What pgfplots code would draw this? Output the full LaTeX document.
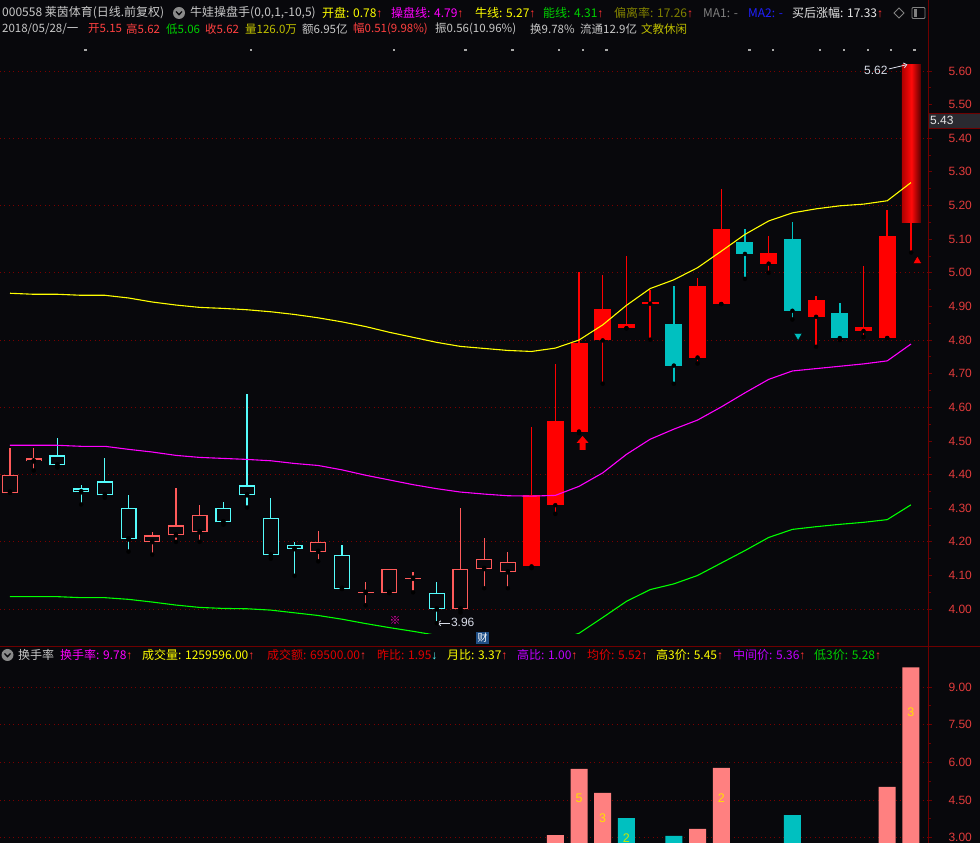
\documentclass[border=0pt]{standalone}
\usepackage{fontspec}
\setmainfont{Liberation Sans}
\newfontfamily\cjk{Noto Sans CJK SC}
\usepackage{pgfplots}
\usepackage{pgfplotstable}
\pgfplotsset{compat=1.18}
\usetikzlibrary{arrows.meta}

\definecolor{bg}{HTML}{08080C}
\definecolor{gridred}{HTML}{7A0000}
\definecolor{axred}{HTML}{6E0000}
\definecolor{lblred}{HTML}{E23B3B}
\definecolor{hred}{HTML}{FF5A5A}
\definecolor{hcyan}{HTML}{54FCFC}
\definecolor{fred}{HTML}{FF0000}
\definecolor{fcyan}{HTML}{00C0C0}
\definecolor{pinkbar}{HTML}{FF8080}
\definecolor{yel}{HTML}{FFFF00}
\definecolor{mag}{HTML}{FF00FF}
\definecolor{grn}{HTML}{00FF00}
\definecolor{hgray}{HTML}{C8C8C8}
\definecolor{hwhite}{HTML}{E6E6E6}
\definecolor{holive}{HTML}{808000}
\definecolor{holive2}{HTML}{C0C000}
\definecolor{hgrn}{HTML}{00D000}
\definecolor{txtred}{HTML}{FF4040}
\definecolor{darkred}{HTML}{E00000}
\definecolor{arrred}{HTML}{FF3030}
\definecolor{hblue}{HTML}{2020FF}
\definecolor{hpurp}{HTML}{C000FF}
\definecolor{dotgray}{HTML}{A8A8A8}
\definecolor{annot}{HTML}{D8DCE8}
\definecolor{curbox}{HTML}{2A2A30}
\definecolor{caiblue}{HTML}{1F4F86}
\definecolor{numyel}{HTML}{FFE000}
\definecolor{lastL}{HTML}{B00000}
\definecolor{lastM}{HTML}{FF0A0A}
\definecolor{lastR}{HTML}{5A0000}
\definecolor{iconbg}{HTML}{8A8A8A}

\pgfdeclareplotmark{uparrowmk}{%
  \pgfpathmoveto{\pgfqpoint{-6pt}{0pt}}%
  \pgfpathlineto{\pgfqpoint{0pt}{7pt}}%
  \pgfpathlineto{\pgfqpoint{6pt}{0pt}}%
  \pgfpathlineto{\pgfqpoint{3pt}{0pt}}%
  \pgfpathlineto{\pgfqpoint{3pt}{-7pt}}%
  \pgfpathlineto{\pgfqpoint{-3pt}{-7pt}}%
  \pgfpathlineto{\pgfqpoint{-3pt}{0pt}}%
  \pgfpathclose
  \pgfusepathqfill}

% candles: x open high low close
\pgfplotstableread{
x o h l c
0 4.346 4.479 4.346 4.398
1 4.439 4.479 4.412 4.448
6 4.199 4.229 4.162 4.219
7 4.219 4.360 4.200 4.249
8 4.228 4.310 4.200 4.279
13 4.170 4.231 4.142 4.200
15 4.048 4.081 4.011 4.048
16 4.048 4.119 4.048 4.119
17 4.090 4.110 4.050 4.090
19 3.999 4.301 3.990 4.119
20 4.119 4.210 4.062 4.149
21 4.109 4.171 4.062 4.140
}\hollowred

\pgfplotstableread{
x o h l c
2 4.457 4.509 4.421 4.427
3 4.359 4.368 4.311 4.347
4 4.380 4.449 4.331 4.338
5 4.300 4.338 4.171 4.207
9 4.300 4.318 4.251 4.258
10 4.368 4.640 4.302 4.338
11 4.270 4.330 4.150 4.160
12 4.190 4.199 4.099 4.178
14 4.161 4.191 4.060 4.060
18 4.048 4.081 3.958 3.999
}\hollowcyan

\pgfplotstableread{
x o h l c
22 4.127 4.540 4.122 4.340
23 4.309 4.729 4.283 4.560
24 4.528 5.001 4.523 4.792
25 4.799 4.992 4.670 4.891
26 4.835 5.050 4.835 4.849
27 4.908 4.948 4.801 4.908
29 4.748 4.983 4.730 4.961
30 4.907 5.250 4.907 5.130
32 5.027 5.109 5.000 5.058
34 4.869 4.930 4.780 4.918
36 4.827 5.020 4.809 4.838
37 4.806 5.188 4.806 5.109
}\filledred

\pgfplotstableread{
x o h l c
28 4.849 4.961 4.670 4.724
31 5.091 5.130 4.982 5.056
33 5.100 5.151 4.861 4.887
35 4.880 4.910 4.800 4.806
}\filledcyan

% bands: upper (yellow), middle (magenta), lower (green)
\pgfplotstableread{
x yel mag grn
0 4.939 4.487 4.037
1 4.936 4.487 4.037
2 4.936 4.487 4.037
3 4.933 4.484 4.034
4 4.933 4.484 4.034
5 4.925 4.475 4.029
6 4.913 4.467 4.021
7 4.904 4.457 4.012
8 4.897 4.451 4.005
9 4.894 4.448 4.002
10 4.890 4.445 4.001
11 4.884 4.441 3.997
12 4.876 4.433 3.989
13 4.866 4.427 3.981
14 4.854 4.414 3.970
15 4.840 4.398 3.957
16 4.823 4.384 3.945
17 4.808 4.370 3.934
18 4.793 4.358 3.922
19 4.781 4.348 3.913
20 4.775 4.342 3.908
21 4.769 4.337 3.904
22 4.766 4.336 3.904
23 4.776 4.338 3.906
24 4.800 4.365 3.928
25 4.845 4.405 3.975
26 4.903 4.460 4.023
27 4.953 4.505 4.058
28 4.979 4.535 4.075
29 5.015 4.562 4.100
30 5.064 4.601 4.137
31 5.114 4.643 4.174
32 5.154 4.683 4.213
33 5.178 4.708 4.237
34 5.190 4.715 4.245
35 5.199 4.722 4.252
36 5.204 4.729 4.258
37 5.214 4.738 4.266
38 5.268 4.788 4.310
}\bands

% turnover rate (visible part of the lower panel)
\pgfplotstableread{
x v
23 3.10
24 5.74
25 4.78
29 3.35
30 5.78
37 5.02
38 9.78
}\turnred
\pgfplotstableread{
x v
26 3.78
28 3.07
33 3.90
}\turncyan

\pgfplotsset{
  kstyle/.style={
    scale only axis, width=928pt,
    xmin=-0.4218, xmax=38.72,
    axis x line=none, axis y line*=right,
    y axis line style={draw=axred, line width=1pt},
    tick style={draw=axred, line width=0.8pt},
    tick align=outside, major tick length=4pt, minor tick length=2.5pt,
    minor y tick num=1,
    yticklabel style={font=\fontsize{12}{14}\selectfont, text=lblred, xshift=13pt,
      /pgf/number format/fixed, /pgf/number format/fixed zerofill,
      /pgf/number format/precision=2, /pgf/number format/assume math mode=true},
  },
  wick/.style 2 args={only marks, mark=none, error bars/.cd, y dir=plus, y explicit, error mark=none,
      error bar style={draw=#1, line width=#2, solid}},
  body/.style 2 args={only marks, mark=none, error bars/.cd, y dir=plus, y explicit, error mark=none,
      error bar style={draw=#1, line width=#2, solid, line cap=butt}},
}

\tikzset{hd/.style={anchor=west, inner sep=0pt, font=\cjk\fontsize{12}{14}\selectfont},
         hd2/.style={anchor=west, inner sep=0pt, font=\cjk\fontsize{11.5}{14}\selectfont}}
\newcommand{\up}{{\rmfamily\color{arrred}↑}}
\newcommand{\dn}{{\rmfamily\color{hcyan}↓}}

\begin{document}
\begin{tikzpicture}[x=1pt,y=1pt]
\fill[bg] (0,0) rectangle (980,843);
\path[use as bounding box] (0,0) rectangle (980,843);

% separators
\draw[axred, line width=1pt] (0,196) -- (980,196);
\draw[axred, line width=1pt] (928,0) -- (928,843);

% ===== main panel =====
\begin{axis}[kstyle, at={(0pt,209pt)}, anchor=south west, height=594pt,
  ymin=3.926, ymax=5.692,
  ytick={4.0,4.1,4.2,4.3,4.4,4.5,4.6,4.7,4.8,4.9,5.0,5.1,5.2,5.3,5.4,5.5,5.6},
  extra y ticks={4.0,4.2,4.4,4.6,4.8,5.0,5.2,5.4,5.6}, extra y tick labels={},
  extra y tick style={grid=major, major grid style={draw=gridred, line width=0.8pt, dash pattern=on 1pt off 3.5pt}},
]
% hollow red
\addplot[wick={hred}{1.2pt}] table[x=x, y=l, y error expr=\thisrow{h}-\thisrow{l}] {\hollowred};
\addplot[body={hred}{16pt}] table[x=x, y expr={min(\thisrow{o},\thisrow{c})}, y error expr={max(abs(\thisrow{c}-\thisrow{o}),0.0036)}] {\hollowred};
\addplot[body={bg}{13.6pt}] table[x=x, y expr={min(\thisrow{o},\thisrow{c})+0.0036}, y error expr={max(abs(\thisrow{c}-\thisrow{o})-0.0072,0)}] {\hollowred};
% hollow cyan
\addplot[wick={hcyan}{1.2pt}] table[x=x, y=l, y error expr=\thisrow{h}-\thisrow{l}] {\hollowcyan};
\addplot[body={hcyan}{16pt}] table[x=x, y expr={min(\thisrow{o},\thisrow{c})}, y error expr={max(abs(\thisrow{c}-\thisrow{o}),0.0036)}] {\hollowcyan};
\addplot[body={bg}{13.6pt}] table[x=x, y expr={min(\thisrow{o},\thisrow{c})+0.0036}, y error expr={max(abs(\thisrow{c}-\thisrow{o})-0.0072,0)}] {\hollowcyan};
% filled red
\addplot[wick={fred}{1.5pt}] table[x=x, y=l, y error expr=\thisrow{h}-\thisrow{l}] {\filledred};
\addplot[body={fred}{17pt}] table[x=x, y expr={min(\thisrow{o},\thisrow{c})}, y error expr={max(abs(\thisrow{c}-\thisrow{o}),0.0040)}] {\filledred};
% filled cyan
\addplot[wick={fcyan}{1.5pt}] table[x=x, y=l, y error expr=\thisrow{h}-\thisrow{l}] {\filledcyan};
\addplot[body={fcyan}{17pt}] table[x=x, y expr={min(\thisrow{o},\thisrow{c})}, y error expr={max(abs(\thisrow{c}-\thisrow{o}),0.0040)}] {\filledcyan};
% last candle (limit up), open 5.149 high 5.62 low 5.06 close 5.62
\addplot[wick={fred}{1.5pt}] coordinates {(38.01,5.06) +- (0,0.089)};
\addplot[draw=none, left color=lastL, right color=lastR, middle color=lastM] coordinates {(37.62,5.149) (38.42,5.149) (38.42,5.62) (37.62,5.62) (37.62,5.149)};

% bands
\addplot[draw=yel, line width=1.1pt, mark=none] table[x=x, y=yel] {\bands};
\addplot[draw=mag, line width=1.1pt, mark=none] table[x=x, y=mag] {\bands};
\addplot[draw=grn, line width=1.1pt, mark=none] table[x=x, y=grn] {\bands};

% signal marks
\addplot[only marks, mark=uparrowmk, color=fred] coordinates {(24.15,4.494)};
\addplot[only marks, mark=triangle*, mark size=4.5pt, mark options={rotate=180, fill=fcyan, draw=none}] coordinates {(33.24,4.812)};
\addplot[only marks, mark=triangle*, mark size=5pt, mark options={fill=fred, draw=none}] coordinates {(38.27,5.035)};
\addplot[only marks, mark=square*, mark size=0.75pt, color=dotgray, mark options={fill=dotgray, draw=dotgray, line width=0.3pt}] coordinates {
(3.16,5.663) (10.15,5.663) (16.19,5.663) (19.19,5.663) (21.17,5.663) (23.15,5.663) (24.15,5.663) (25.14,5.663)
(31.17,5.663) (32.16,5.663) (34.16,5.663) (35.17,5.663) (36.17,5.663) (37.14,5.663) (38.13,5.663)};

% annotations
\node[text=mag!75!red, font=\cjk\fontsize{11}{12}\selectfont, inner sep=0pt] at (axis cs:16.24,3.967) {※};
\draw[annot, line width=0.8pt, -{Straight Barb[length=3pt,width=5pt]}] (axis cs:18.55,3.958) -- (axis cs:18.02,3.958);
\node[anchor=west, text=annot, font=\fontsize{12}{14}\selectfont, inner sep=1pt] at (axis cs:18.55,3.961) {3.96};
\node[anchor=east, text=annot, font=\fontsize{12}{14}\selectfont, inner sep=1pt] at (axis cs:37.06,5.603) {5.62};
\draw[annot, line width=0.8pt, -{Straight Barb[length=3pt,width=5pt]}] (axis cs:37.07,5.606) -- (axis cs:37.85,5.619);
\end{axis}

% ===== lower panel =====
\begin{axis}[kstyle, at={(0pt,0pt)}, anchor=south west, height=196pt,
  ymin=2.789, ymax=10.59,
  ytick={3,4.5,6,7.5,9},
  ymajorgrids, major grid style={draw=gridred, line width=0.8pt, dash pattern=on 1pt off 3.5pt},
]
\addplot[ybar, bar width=17pt, bar shift=0pt, fill=pinkbar, draw=none] table[x=x, y=v] {\turnred};
\addplot[ybar, bar width=17pt, bar shift=0pt, fill=fcyan, draw=none] table[x=x, y=v] {\turncyan};
\node[text=numyel, font=\fontsize{12.5}{14}\selectfont] at (axis cs:24,4.58) {5};
\node[text=numyel, font=\fontsize{12.5}{14}\selectfont] at (axis cs:25,3.79) {3};
\node[text=numyel!80!green, font=\fontsize{12.5}{14}\selectfont] at (axis cs:26,3.0) {2};
\node[text=numyel, font=\fontsize{12.5}{14}\selectfont] at (axis cs:30,4.59) {2};
\node[text=numyel, font=\fontsize{12.5}{14}\selectfont] at (axis cs:38,7.98) {3};
\end{axis}

% cursor price box
\fill[curbox] (928.5,715) rectangle (980,730);
\draw[axred] (928.5,715) -- (980,715) (928.5,730) -- (980,730);
\node[anchor=west, text=hwhite, font=\fontsize{12}{14}\selectfont, inner sep=0pt] at (930,722.5) {5.43};

% "cai" marker
\fill[caiblue] (476,199) rectangle (489,211);
\node[text=white, font=\cjk\fontsize{10}{10}\selectfont, inner sep=0pt] at (482.5,205) {财};

% ===== header line 1 =====
\node[hd, text=hgray] at (2,830) {000558 莱茵体育(日线.前复权)};
\fill[iconbg] (179,830) circle (6);
\draw[bg, line width=1.3pt] (176,831.5) -- (179,828.3) -- (182,831.5);
\node[hd, text=hgray] at (190,830) {牛娃操盘手(0,0,1,-10,5)};
\node[hd, text=yel] at (322,830) {开盘: 0.78\up};
\node[hd, text=mag] at (391,830) {操盘线: 4.79\up};
\node[hd, text=yel] at (475,830) {牛线: 5.27\up};
\node[hd, text=hgrn] at (543,830) {能线: 4.31\up};
\node[hd, text=holive] at (614,830) {偏离率: 17.26\up};
\node[hd, text=gray] at (703,830) {MA1: -};
\node[hd, text=hblue] at (748,830) {MA2: -};
\node[hd, text=hwhite] at (792,830) {买后涨幅: 17.33\up};
\draw[gray, line width=0.8pt] (894,830) -- (899,835) -- (904,830) -- (899,825) -- cycle;
\draw[gray, line width=0.9pt, rounded corners=1pt] (912,824.5) rectangle (925,835.5);
\fill[gray] (913.5,826) rectangle (917,834);

% ===== header line 2 =====
\node[hd2, text=hgray] at (2,814) {2018/05/28/一};
\node[hd2, text=txtred] at (88,814) {开5.15};
\node[hd2, text=txtred] at (126,814) {高5.62};
\node[hd2, text=hgrn] at (166,814) {低5.06};
\node[hd2, text=txtred] at (205,814) {收5.62};
\node[hd2, text=holive2] at (245,814) {量126.0万};
\node[hd2, text=hgray] at (302,814) {额6.95亿};
\node[hd2, text=txtred] at (353,814) {幅0.51(9.98\%)};
\node[hd2, text=hgray] at (435,814) {振0.56(10.96\%)};
\node[hd2, text=hgray] at (530,814) {换9.78\%};
\node[hd2, text=hgray] at (580,814) {流通12.9亿};
\node[hd2, text=holive2] at (641,814) {文教休闲};

% ===== lower header =====
\fill[iconbg] (7.5,188) circle (6);
\draw[bg, line width=1.3pt] (4.5,189.5) -- (7.5,186.3) -- (10.5,189.5);
\node[hd, text=hgray] at (18,188) {换手率};
\node[hd, text=mag] at (60,188) {换手率: 9.78\up};
\node[hd, text=yel] at (142,188) {成交量: 1259596.00\up};
\node[hd, text=darkred] at (267,188) {成交额: 69500.00\up};
\node[hd, text=darkred] at (377,188) {昨比: 1.95\dn};
\node[hd, text=yel] at (447,188) {月比: 3.37\up};
\node[hd, text=hpurp] at (517,188) {高比: 1.00\up};
\node[hd, text=darkred] at (587,188) {均价: 5.52\up};
\node[hd, text=yel] at (656,188) {高3价: 5.45\up};
\node[hd, text=hpurp] at (733,188) {中间价: 5.36\up};
\node[hd, text=hgrn] at (814,188) {低3价: 5.28\up};
\end{tikzpicture}
\end{document}
